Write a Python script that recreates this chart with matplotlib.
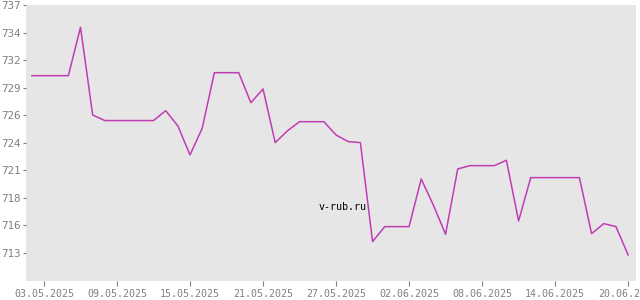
import numpy as np
import pandas as pd
import matplotlib
matplotlib.use("Agg")
import matplotlib.pyplot as plt
import matplotlib.dates as mdates

# Курс по дням, начиная с 02.05.2025
start = "2025-05-02"
values = [730.15, 730.15, 730.15, 730.15, 734.84, 726.34, 725.8, 725.8, 725.8, 725.8,
          725.8, 726.76, 725.28, 722.47, 725.05, 730.44, 730.44, 730.44, 727.53, 728.86,
          723.66, 724.8, 725.69, 725.69, 725.69, 724.4, 723.76, 723.66, 714.07, 715.52,
          715.52, 715.52, 720.14, 717.6, 714.78, 721.11, 721.43, 721.43, 721.43, 721.95,
          716.07, 720.27, 720.27, 720.27, 720.27, 720.27, 714.84, 715.81, 715.52, 712.78]
dates = pd.date_range(start, periods=len(values), freq="D")

ytick_vals = [713 + k * 8 / 3 for k in range(10)]
ytick_labels = ["713", "716", "718", "721", "724", "726", "729", "732", "734", "737"]
xtick_dates = pd.date_range("2025-05-03", "2025-06-20", freq="6D")

fig = plt.figure(figsize=(6.4, 3.0), dpi=100)
ax = fig.add_axes([26 / 640, 19 / 300, 610 / 640, 276 / 300])
ax.set_facecolor("#e6e6e6")

ax.plot(dates, values, color="#c03cb4", linewidth=1.1)

ax.set_ylim(710.25, 737)
d0 = mdates.date2num(dates[0])
ax.set_xlim(d0 - 0.48, d0 + 49.65)

ax.set_yticks(ytick_vals)
ax.set_yticklabels(ytick_labels)
ax.set_xticks(xtick_dates)
ax.xaxis.set_major_formatter(mdates.DateFormatter("%d.%m.%Y"))

# рамки не нужны
for s in ax.spines.values():
    s.set_visible(False)

ax.tick_params(axis="y", length=2.5, width=0.8, color="#808080", pad=1,
               labelsize=7.8, labelcolor="#808080")
ax.tick_params(axis="x", length=3.6, width=0.8, color="#808080", pad=2,
               labelsize=7.2, labelcolor="#808080")
for lab in ax.get_xticklabels() + ax.get_yticklabels():
    lab.set_family("DejaVu Sans Mono")

# водяной знак
fig.text(343 / 640, 1 - 207 / 300, "v-rub.ru", ha="center", va="center",
         fontsize=7.2, family="DejaVu Sans Mono", color="black")

fig.savefig("out.png", dpi=100)
